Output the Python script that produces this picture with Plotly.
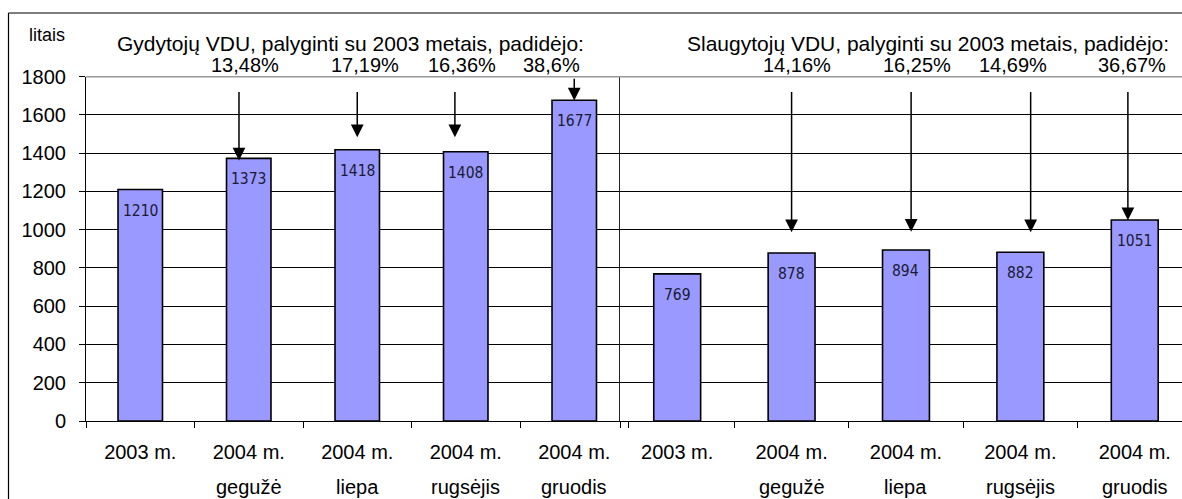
import plotly.graph_objects as go

# ---------------- data ----------------
categories = ["2003 m.", "2004 m. gegužė", "2004 m. liepa", "2004 m. rugsėjis", "2004 m. gruodis"]
tick_line1 = ["2003 m.", "2004 m.", "2004 m.", "2004 m.", "2004 m."]
tick_line2 = ["", "gegužė", "liepa", "rugsėjis", "gruodis"]
gydytoju_vdu = [1210, 1373, 1418, 1408, 1677]
slaugytoju_vdu = [769, 878, 894, 882, 1051]
gydytoju_pct = ["13,48%", "17,19%", "16,36%", "38,6%"]
slaugytoju_pct = ["14,16%", "16,25%", "14,69%", "36,67%"]
title_left = "Gydytojų VDU, palyginti su 2003 metais, padidėjo:"
title_right = "Slaugytojų VDU, palyginti su 2003 metais, padidėjo:"
y_unit = "litais"
y_ticks = [0, 200, 400, 600, 800, 1000, 1200, 1400, 1600, 1800]

# ---------------- layout helpers ----------------
W, H = 1182, 499
def xp(px):
    return px / W
def yp(py):
    return 1 - py / H

FONT = "Liberation Sans, Arial, sans-serif"
NARROW = "Liberation Sans Narrow, Arial Narrow, DejaVu Sans Condensed, sans-serif"
BAR_COLOR = "#9999FF"

fig = go.Figure()
fig.add_trace(go.Bar(x=categories, y=gydytoju_vdu, xaxis="x", yaxis="y", width=0.41,
                     marker=dict(color=BAR_COLOR, line=dict(color="black", width=1.6)),
                     hoverinfo="x+y", showlegend=False))
fig.add_trace(go.Bar(x=categories, y=slaugytoju_vdu, xaxis="x2", yaxis="y2", width=0.41,
                     marker=dict(color=BAR_COLOR, line=dict(color="black", width=1.6)),
                     hoverinfo="x+y", showlegend=False))

ydom = [yp(421), yp(76.7)]
common_x = dict(type="category", showline=True, linecolor="black", linewidth=1,
                ticks="outside", ticklen=6, tickcolor="black", tickson="boundaries",
                showgrid=False, tickvals=categories, ticktext=tick_line1,
                tickfont=dict(family=FONT, size=20, color="black"),
                ticklabelstandoff=13, zeroline=False, fixedrange=True, automargin=False)
fig.update_layout(
    width=W, height=H, autosize=False,
    margin=dict(l=0, r=0, t=0, b=0, pad=0, autoexpand=False),
    paper_bgcolor="white", plot_bgcolor="white",
    xaxis=dict(common_x, domain=[xp(86), xp(628.5)], anchor="y", range=[-0.5, 4.5]),
    xaxis2=dict(common_x, domain=[xp(620), 1.0], anchor="y2", range=[-0.5, 4.413]),
    yaxis=dict(domain=ydom, range=[0, 1800], tickvals=y_ticks, anchor="x",
               showgrid=True, gridcolor="black", gridwidth=1,
               showline=True, linecolor="black", linewidth=1,
               ticks="outside", ticklen=6, tickcolor="black",
               tickfont=dict(family=FONT, size=20, color="black"),
               ticklabelstandoff=9, zeroline=False, fixedrange=True, automargin=False),
    yaxis2=dict(domain=ydom, range=[0, 1800], tickvals=y_ticks, anchor="x2",
                showgrid=True, gridcolor="black", gridwidth=1,
                showline=True, linecolor="#222222", linewidth=1,
                showticklabels=False, ticks="", zeroline=False, fixedrange=True,
                automargin=False),
)

annotations = []
# value labels inside bars
for xr, yr, vals in (("x", "y", gydytoju_vdu), ("x2", "y2", slaugytoju_vdu)):
    for c, v in zip(categories, vals):
        annotations.append(dict(x=c, y=v, xref=xr, yref=yr, text=str(v), showarrow=False,
                                xanchor="center", yanchor="middle", yshift=-21,
                                font=dict(family=NARROW, size=15.5, color="#1a1a33")))
    # second line of category labels
    for c, t in zip(categories, tick_line2):
        if t:
            annotations.append(dict(x=c, y=yp(487), xref=xr, yref="paper", text=t,
                                    showarrow=False, xanchor="center", yanchor="middle",
                                    font=dict(family=FONT, size=20, color="black")))

# arrows (hand-drawn look: slight offsets from bar centres)
left_arrow_dx = [-0.09, 0.0, -0.10, 0.0]
left_arrow_tail = [1728, 1728, 1728, 1797]
left_arrow_tip = [1362, 1483, 1483, 1676]
right_arrow_dx = [0.0, 0.045, 0.09, -0.06]
right_arrow_tail = [1728, 1728, 1728, 1728]
right_arrow_tip = [987, 990, 987, 1050]
for xr, yr, dxs, tails, tips in (("x", "y", left_arrow_dx, left_arrow_tail, left_arrow_tip),
                                 ("x2", "y2", right_arrow_dx, right_arrow_tail, right_arrow_tip)):
    for i, (dx, tl, tp) in enumerate(zip(dxs, tails, tips)):
        xx = i + 1 + dx
        annotations.append(dict(x=xx, y=tp, ax=xx, ay=tl, xref=xr, yref=yr, axref=xr, ayref=yr,
                                text="", showarrow=True, arrowhead=2, arrowsize=1.7,
                                arrowwidth=1.5, arrowcolor="black"))

# titles and percentage texts
def paper_text(px, py, t, size):
    return dict(x=xp(px), y=yp(py), xref="paper", yref="paper", text=t, showarrow=False,
                xanchor="center", yanchor="middle",
                font=dict(family=FONT, size=size, color="black"))

annotations.append(paper_text(47, 35, y_unit, 18))
annotations.append(paper_text(350, 44, title_left, 21))
annotations.append(paper_text(928, 44, title_right, 21))
for px, t in zip([245, 365, 462, 551], gydytoju_pct):
    annotations.append(paper_text(px, 65, t, 20))
for px, t in zip([797, 917, 1013, 1132], slaugytoju_pct):
    annotations.append(paper_text(px, 65, t, 20))
fig.update_layout(annotations=annotations)

# outer frame and grey top border of plot area
shapes = [
    dict(type="line", xref="paper", yref="paper", x0=xp(8.5), x1=1.0, y0=yp(13), y1=yp(13),
         line=dict(color="black", width=1.2)),
    dict(type="line", xref="paper", yref="paper", x0=xp(8.5), x1=xp(8.5), y0=yp(13), y1=0,
         line=dict(color="black", width=1.2)),
    dict(type="line", xref="paper", yref="paper", x0=xp(86), x1=1.0, y0=ydom[1], y1=ydom[1],
         line=dict(color="#9a9a9a", width=1.5), layer="above"),
]
fig.update_layout(shapes=shapes)

fig.write_html(
    "out.html",
    config={"displayModeBar": False},
    post_script=("document.documentElement.style.overflow='hidden';"
                 "document.body.style.margin='0';document.body.style.overflow='hidden';"),
)
